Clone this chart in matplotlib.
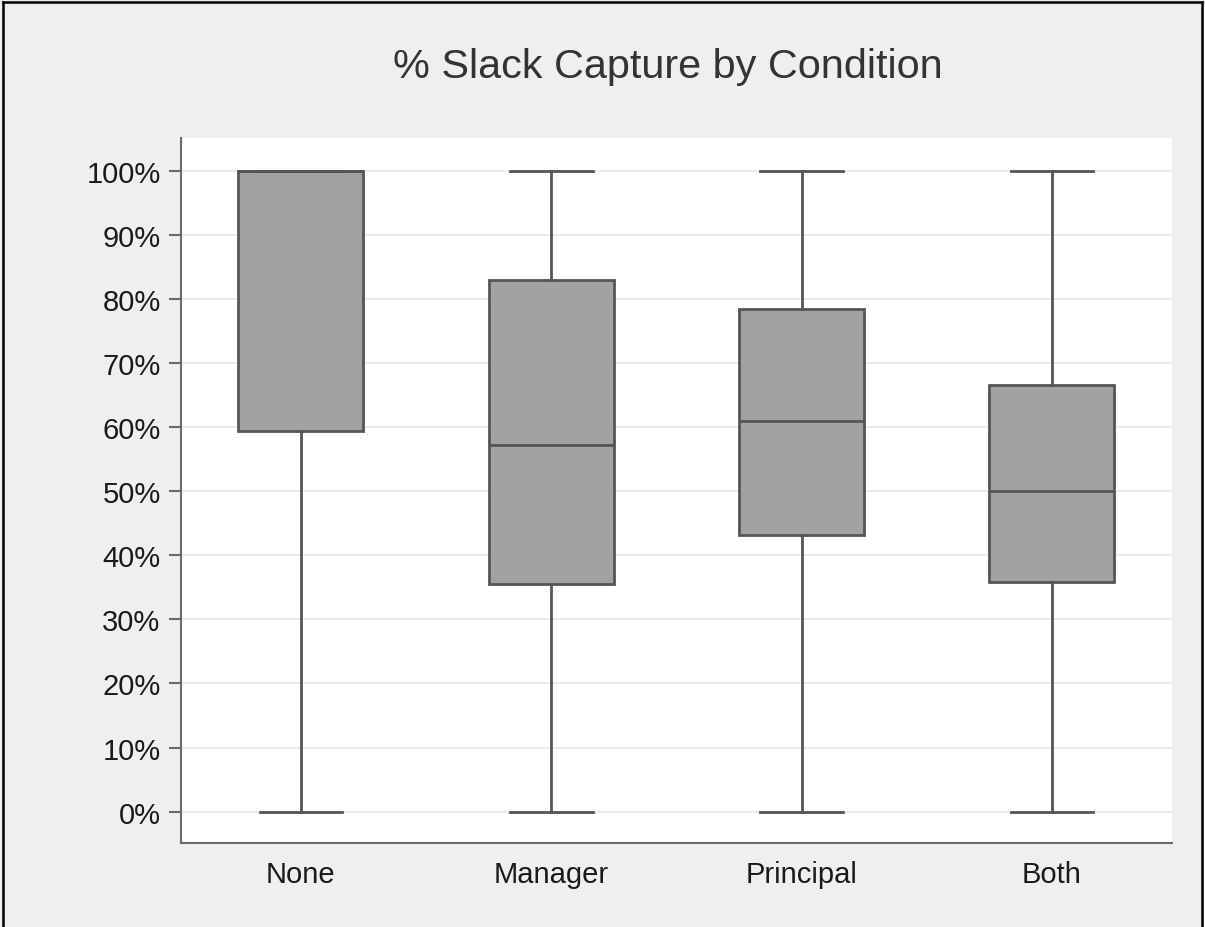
import matplotlib
matplotlib.use("Agg")
import matplotlib.pyplot as plt
from matplotlib.lines import Line2D
from matplotlib.ticker import FuncFormatter

conditions = ["None", "Manager", "Principal", "Both"]
whislo = [0.0, 0.0, 0.0, 0.0]
q1 = [59.4, 35.6, 43.1, 35.9]
med = [100.0, 57.2, 60.9, 50.0]
q3 = [100.0, 83.0, 78.4, 66.6]
whishi = [100.0, 100.0, 100.0, 100.0]
yticks = list(range(0, 101, 10))
title = "% Slack Capture by Condition"

plt.rcParams['font.family'] = ['Liberation Sans', 'DejaVu Sans']

fig = plt.figure(figsize=(12.05, 9.28), dpi=100, facecolor="#EFEFEF")
ax = fig.add_axes([0.150, 0.0905, 0.8226, 0.7595])
ax.set_facecolor("white")

stats = []
for i, c in enumerate(conditions):
    stats.append(dict(label=c, whislo=whislo[i], q1=q1[i], med=med[i],
                      q3=q3[i], whishi=whishi[i], fliers=[]))

edge = "#555555"
ax.bxp(stats, positions=range(1, len(conditions) + 1), widths=0.5,
       patch_artist=True, showfliers=False, capwidths=0.33,
       boxprops=dict(facecolor="#A2A2A2", edgecolor=edge, linewidth=2.0),
       medianprops=dict(color=edge, linewidth=2.0),
       whiskerprops=dict(color=edge, linewidth=2.0),
       capprops=dict(color=edge, linewidth=2.0))

ax.set_xlim(0.52, 4.48)
ax.set_ylim(-4.9, 105.1)
ax.set_yticks(yticks)
ax.yaxis.set_major_formatter(FuncFormatter(lambda v, p: f"{int(v)}%"))
ax.grid(axis="y", color="#EBEBEB", linewidth=1.5)
ax.set_axisbelow(True)

for s in ["top", "right"]:
    ax.spines[s].set_visible(False)
for s in ["left", "bottom"]:
    ax.spines[s].set_color("#6A6A6A")
    ax.spines[s].set_linewidth(1.5)

ax.tick_params(axis="y", length=8.5, width=1.5, color="#6A6A6A", pad=6,
               labelsize=21, labelcolor="#1A1A1A")
ax.tick_params(axis="x", length=0, pad=12, labelsize=21, labelcolor="#1A1A1A")

fig.text(0.5545, 0.928, title, ha="center", va="center", fontsize=29.8, color="#333333")

# figure border
for (x0, y0, x1, y1) in [(0.0028, 0.9965, 0.9975, 0.9965), (0.0028, 0.0, 0.0028, 0.9965),
                         (0.9975, 0.0, 0.9975, 0.9965)]:
    fig.add_artist(Line2D([x0, x1], [y0, y1], transform=fig.transFigure,
                          color="black", linewidth=1.8))

fig.savefig("out.png", dpi=100, facecolor=fig.get_facecolor())
